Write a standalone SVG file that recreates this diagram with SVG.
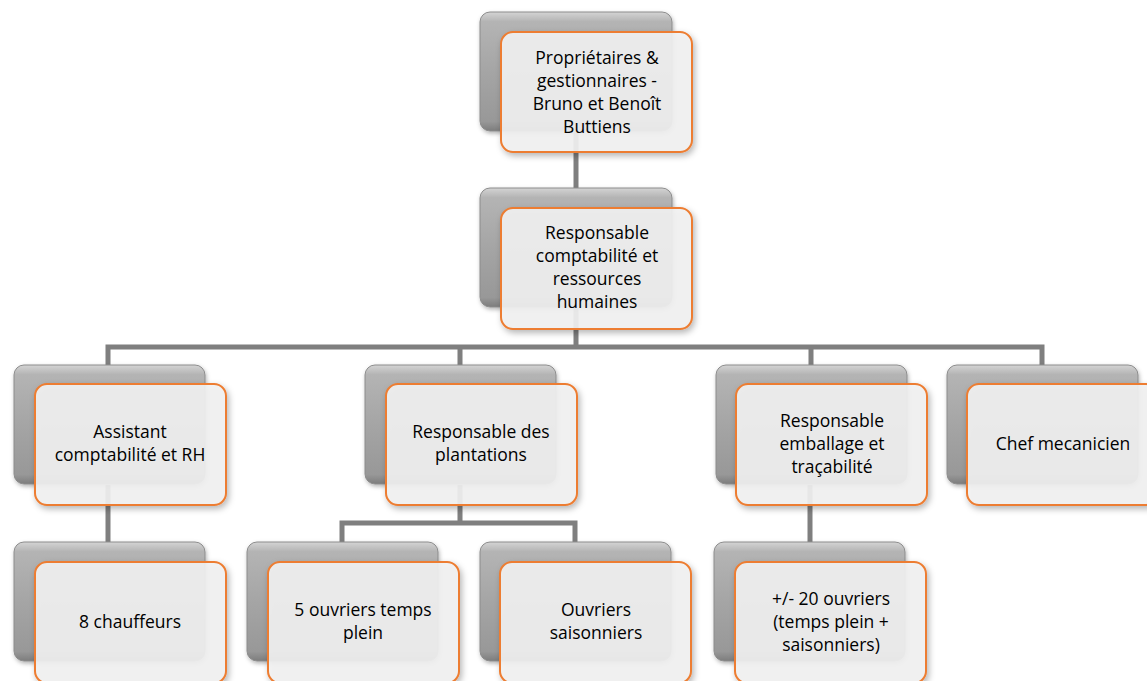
<svg xmlns="http://www.w3.org/2000/svg" width="1147" height="681" viewBox="0 0 1147 681">
<defs>
<linearGradient id="gb" x1="0" y1="0" x2="0" y2="1">
<stop offset="0" stop-color="#d4d4d4"/>
<stop offset="0.08" stop-color="#b4b4b4"/>
<stop offset="0.5" stop-color="#a5a5a5"/>
<stop offset="0.92" stop-color="#989898"/>
<stop offset="1" stop-color="#7d7d7d"/>
</linearGradient>
<filter id="sh" x="-10%" y="-10%" width="125%" height="130%">
<feDropShadow dx="2" dy="3" stdDeviation="3" flood-color="#000" flood-opacity="0.3"/>
</filter>
<filter id="sh2" x="-10%" y="-10%" width="125%" height="130%">
<feDropShadow dx="1" dy="2" stdDeviation="2" flood-color="#000" flood-opacity="0.3"/>
</filter>
</defs>
<style>
.back{fill:url(#gb);stroke:#8c8c8c;stroke-width:1;filter:url(#sh2)}
.front{fill:#f2f2f2;fill-opacity:0.9;stroke:#ed7d31;stroke-width:2;filter:url(#sh)}
.t{font-family:"Open Sans","Noto Sans",sans-serif;font-size:17.5px;fill:#000;text-anchor:middle}
.c{fill:none;stroke:#7f7f7f;stroke-width:5;stroke-linejoin:miter}
</style>
<rect width="1147" height="681" fill="#fff"/>
<g id="connectors">
<path class="c" d="M576 130V190"/>
<path class="c" d="M576 308V347M108 367V347H1042V367M460 347V367M811 347V367"/>
<path class="c" d="M108 485V544"/>
<path class="c" d="M460 485V523M342 544V523H575V544"/>
<path class="c" d="M810 485V544"/>
</g>
<g id="n1">
<rect class="back" x="480" y="12" width="192" height="119" rx="10"/>
<rect class="front" x="501" y="32" width="191" height="120" rx="12"/>
<text class="t"><tspan x="597" y="64">Propriétaires &amp;</tspan><tspan x="597" y="87">gestionnaires -</tspan><tspan x="597" y="110">Bruno et Benoît</tspan><tspan x="597" y="133">Buttiens</tspan></text>
</g>
<g id="n2">
<rect class="back" x="480" y="188" width="192" height="119" rx="10"/>
<rect class="front" x="501" y="208" width="191" height="121" rx="12"/>
<text class="t"><tspan x="597" y="239">Responsable</tspan><tspan x="597" y="262">comptabilité et</tspan><tspan x="597" y="285">ressources</tspan><tspan x="597" y="308">humaines</tspan></text>
</g>
<g id="n3">
<rect class="back" x="14" y="365" width="191" height="119" rx="10"/>
<rect class="front" x="35" y="384" width="191" height="121" rx="12"/>
<text class="t"><tspan x="130" y="438">Assistant</tspan><tspan x="130" y="461">comptabilité et RH</tspan></text>
</g>
<g id="n4">
<rect class="back" x="365" y="365" width="191" height="119" rx="10"/>
<rect class="front" x="386" y="384" width="191" height="121" rx="12"/>
<text class="t"><tspan x="481" y="438">Responsable des</tspan><tspan x="481" y="461">plantations</tspan></text>
</g>
<g id="n5">
<rect class="back" x="716" y="365" width="191" height="119" rx="10"/>
<rect class="front" x="736" y="384" width="191" height="121" rx="12"/>
<text class="t"><tspan x="832" y="427">Responsable</tspan><tspan x="832" y="450">emballage et</tspan><tspan x="832" y="473">traçabilité</tspan></text>
</g>
<g id="n6">
<rect class="back" x="947" y="365" width="191" height="119" rx="10"/>
<rect class="front" x="967" y="384" width="191" height="121" rx="12"/>
<text class="t"><tspan x="1063" y="450">Chef mecanicien</tspan></text>
</g>
<g id="n7">
<rect class="back" x="14" y="542" width="191" height="119" rx="10"/>
<rect class="front" x="35" y="562" width="191" height="121" rx="12"/>
<text class="t"><tspan x="130" y="628">8 chauffeurs</tspan></text>
</g>
<g id="n8">
<rect class="back" x="247" y="542" width="191" height="119" rx="10"/>
<rect class="front" x="268" y="562" width="191" height="121" rx="12"/>
<text class="t"><tspan x="363" y="616">5 ouvriers temps</tspan><tspan x="363" y="639">plein</tspan></text>
</g>
<g id="n9">
<rect class="back" x="480" y="542" width="191" height="119" rx="10"/>
<rect class="front" x="500" y="562" width="191" height="121" rx="12"/>
<text class="t"><tspan x="596" y="616">Ouvriers</tspan><tspan x="596" y="639">saisonniers</tspan></text>
</g>
<g id="n10">
<rect class="back" x="714" y="542" width="191" height="119" rx="10"/>
<rect class="front" x="735" y="562" width="191" height="121" rx="12"/>
<text class="t"><tspan x="831" y="605">+/- 20 ouvriers</tspan><tspan x="831" y="628">(temps plein +</tspan><tspan x="831" y="651">saisonniers)</tspan></text>
</g>
</svg>
